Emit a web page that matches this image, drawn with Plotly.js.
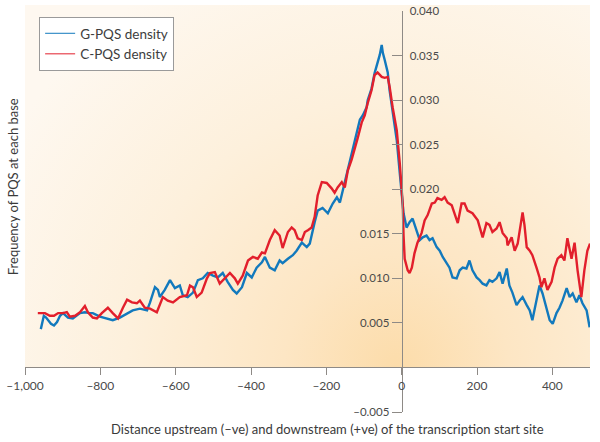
<!DOCTYPE html>
<html>
<head>
<meta charset="utf-8">
<script src="https://cdn.plot.ly/plotly-3.0.1.min.js"></script>
<style>
  body { margin: 0; background: #fff; }
  #chart { width: 600px; height: 442px; }
</style>
</head>
<body>
<div id="chart"></div>
<script>
// distance from TSS (bases) and PQS frequency
const gDist = [-958,-950,-944,-931,-923,-915,-907,-899,-886,-873,-854,-841,-828,-820,-801,-780,-767,-748,-729,-714,
  -695,-676,-668,-655,-647,-642,-629,-615,-602,-589,-581,-568,-554,-541,-528,-515,-501,-488,-475,-462,
  -448,-438,-424,-411,-398,-385,-371,-363,-350,-337,-324,-316,-302,-289,-279,-265,-252,-244,-231,-223,
  -210,-196,-183,-172,-164,-156,-146,-138,-130,-119,-111,-103,-93,-90,-80,-72,-64,-58,-53,-50,
  -45,-37,-32,-24,-13,-5,0,5,13,21,29,40,48,56,66,74,82,93,101,109,
  119,127,135,146,154,162,172,180,188,199,207,215,225,233,241,252,260,268,279,286,
  294,305,313,321,332,340,347,358,366,374,385,393,401,411,419,427,438,446,454,464,
  472,480,491,499];
const gFreq = [0.0043,0.0058,0.0056,0.0049,0.0047,0.0051,0.0058,0.0061,0.0056,0.0055,0.0061,0.0062,0.0061,0.0061,0.0057,0.0055,0.0053,0.0056,0.0061,0.0064,
  0.0066,0.0064,0.0073,0.0090,0.0087,0.0079,0.0087,0.0098,0.0089,0.0092,0.0081,0.0079,0.0084,0.0098,0.0100,0.0106,0.0103,0.0101,0.0106,0.0096,
  0.0087,0.0083,0.0090,0.0106,0.0101,0.0112,0.0118,0.0124,0.0112,0.0109,0.0120,0.0117,0.0122,0.0126,0.0131,0.0140,0.0135,0.0139,0.0163,0.0176,
  0.0179,0.0173,0.0184,0.0191,0.0185,0.0199,0.0216,0.0233,0.0247,0.0266,0.0278,0.0283,0.0292,0.0300,0.0313,0.0330,0.0342,0.0351,0.0362,0.0353,
  0.0345,0.0331,0.0311,0.0285,0.0255,0.0218,0.0193,0.0173,0.0157,0.0163,0.0167,0.0154,0.0143,0.0146,0.0148,0.0143,0.0145,0.0135,0.0131,0.0124,
  0.0118,0.0112,0.0101,0.0100,0.0109,0.0112,0.0111,0.0120,0.0109,0.0101,0.0098,0.0094,0.0092,0.0098,0.0096,0.0100,0.0107,0.0094,0.0111,0.0092,
  0.0084,0.0070,0.0075,0.0079,0.0070,0.0064,0.0053,0.0075,0.0092,0.0083,0.0064,0.0053,0.0049,0.0061,0.0067,0.0075,0.0089,0.0079,0.0083,0.0073,
  0.0081,0.0072,0.0064,0.0045];

const cDist = [-966,-947,-934,-923,-912,-899,-889,-881,-867,-854,-841,-833,-820,-809,-796,-780,-767,-753,-740,-729,
  -716,-703,-695,-682,-668,-650,-634,-621,-607,-589,-570,-562,-554,-544,-531,-517,-509,-496,-483,-469,
  -456,-443,-435,-422,-408,-395,-382,-371,-363,-350,-337,-324,-316,-302,-292,-284,-276,-265,-257,-249,
  -239,-231,-223,-212,-199,-186,-178,-170,-159,-151,-143,-133,-125,-117,-106,-98,-90,-80,-72,-64,
  -53,-45,-37,-32,-24,-13,-5,3,5,8,16,21,27,34,42,53,61,69,80,88,
  95,106,114,122,133,141,149,159,167,175,188,202,215,225,233,241,252,260,268,279,
  281,292,300,308,318,321,326,332,340,347,358,366,371,379,387,398,406,414,424,432,
  440,451,459,467,477,485,493,500];
const cFreq = [0.0061,0.0061,0.0058,0.0058,0.0061,0.0061,0.0062,0.0057,0.0058,0.0062,0.0069,0.0062,0.0056,0.0055,0.0061,0.0067,0.0061,0.0055,0.0067,0.0076,
  0.0073,0.0072,0.0075,0.0067,0.0066,0.0062,0.0079,0.0075,0.0073,0.0079,0.0081,0.0092,0.0090,0.0079,0.0084,0.0100,0.0106,0.0107,0.0094,0.0100,
  0.0106,0.0100,0.0094,0.0103,0.0120,0.0124,0.0122,0.0129,0.0128,0.0143,0.0154,0.0148,0.0134,0.0152,0.0157,0.0154,0.0145,0.0143,0.0152,0.0154,
  0.0157,0.0169,0.0193,0.0208,0.0207,0.0201,0.0196,0.0202,0.0208,0.0202,0.0221,0.0233,0.0244,0.0257,0.0275,0.0283,0.0297,0.0311,0.0328,0.0331,
  0.0326,0.0325,0.0326,0.0315,0.0292,0.0266,0.0229,0.0182,0.0148,0.0122,0.0109,0.0106,0.0112,0.0128,0.0140,0.0151,0.0165,0.0171,0.0184,0.0185,
  0.0190,0.0188,0.0191,0.0185,0.0182,0.0173,0.0162,0.0184,0.0184,0.0176,0.0173,0.0165,0.0146,0.0162,0.0160,0.0152,0.0156,0.0163,0.0151,0.0145,
  0.0137,0.0146,0.0131,0.0139,0.0165,0.0174,0.0160,0.0135,0.0131,0.0126,0.0112,0.0101,0.0090,0.0100,0.0087,0.0096,0.0112,0.0122,0.0126,0.0120,
  0.0145,0.0122,0.0140,0.0109,0.0079,0.0109,0.0131,0.0139];

const seriesNames = ["G-PQS density", "C-PQS density"];
const xTickVals = [-1000, -800, -600, -400, -200, 0, 200, 400];
const xTickText = ["\u20131,000", "\u2013800", "\u2013600", "\u2013400", "\u2013200", "0", "200", "400"];
const yLowVals = [-0.005, 0.005, 0.010, 0.015];
const yLowText = ["\u20130.005", "0.005", "0.010", "0.015"];
const yHighVals = [0.020, 0.025, 0.030, 0.035, 0.040];
const yHighText = ["0.020", "0.025", "0.030", "0.035", "0.040"];

const BLUE = "#1279bd";
const RED = "#e21f2c";
const AXIS = "#8e8a86";
const FONT = "Lato, 'Open Sans', sans-serif";

// soft orange backdrop, brightest top-left, warmest just left of the TSS
const bg = "data:image/svg+xml;utf8," + encodeURIComponent(
  '<svg xmlns="http://www.w3.org/2000/svg" width="566" height="362" preserveAspectRatio="none">' +
  '<defs><radialGradient id="g" gradientUnits="userSpaceOnUse" cx="372" cy="362" r="450">' +
  '<stop offset="0" stop-color="#fcdcaa"/><stop offset="0.25" stop-color="#fde6c4"/>' +
  '<stop offset="0.6" stop-color="#fdf0dc"/><stop offset="1" stop-color="#fef8f0"/>' +
  '</radialGradient></defs>' +
  '<rect width="566" height="362" fill="url(#g)"/></svg>');

const traces = [
  {x: gDist, y: gFreq, mode: "lines", line: {color: BLUE, width: 2.4}, showlegend: false, hoverinfo: "skip"},
  {x: cDist, y: cFreq, mode: "lines", line: {color: RED, width: 2.4}, showlegend: false, hoverinfo: "skip"},
  // thin legend keys, as in the figure
  {x: [null], y: [null], yaxis: "y2", mode: "lines", name: seriesNames[0], line: {color: BLUE, width: 1}},
  {x: [null], y: [null], yaxis: "y2", mode: "lines", name: seriesNames[1], line: {color: RED, width: 1}},
];

const layout = {
  width: 600,
  height: 442,
  margin: {l: 25, r: 10, t: 11, b: 30},
  paper_bgcolor: "#ffffff",
  plot_bgcolor: "rgba(0,0,0,0)",
  font: {family: FONT, color: "#4a4a4a", size: 12},
  showlegend: true,
  legend: {
    x: 0.025, y: 0.985, xanchor: "left", yanchor: "top",
    bgcolor: "#ffffff", bordercolor: "#9a9a9a", borderwidth: 1,
    font: {family: FONT, size: 13.5, color: "#3d3d3d"},
    tracegroupgap: 0,
  },
  xaxis: {
    range: [-1000, 500],
    anchor: "free", position: 0.1111,
    showgrid: false, zeroline: false,
    showline: true, linecolor: AXIS, linewidth: 1,
    ticks: "outside", ticklen: 7, tickcolor: AXIS,
    tickvals: xTickVals, ticktext: xTickText,
    tickfont: {size: 12, color: "#4a4a4a"},
  },
  yaxis: {
    range: [-0.005, 0.040],
    anchor: "free", position: 2 / 3,
    showgrid: false, zeroline: false,
    showline: true, linecolor: AXIS, linewidth: 1,
    ticks: "outside", ticklen: 10, tickcolor: AXIS,
    tickvals: yLowVals, ticktext: yLowText,
    tickfont: {size: 11.5, color: "#4a4a4a"},
  },
  yaxis2: {
    range: [-0.005, 0.040],
    overlaying: "y", side: "right",
    anchor: "free", position: 2 / 3,
    showgrid: false, zeroline: false, showline: false,
    ticks: "inside", ticklen: 10, tickcolor: AXIS,
    ticklabelstandoff: 7,
    tickvals: yHighVals, ticktext: yHighText,
    tickfont: {size: 11.5, color: "#4a4a4a"},
  },
  images: [{
    source: bg, xref: "paper", yref: "paper",
    x: 0, y: 1.015, sizex: 1, sizey: 0.904,
    xanchor: "left", yanchor: "top", sizing: "stretch", layer: "below",
  }],
  annotations: [
    {
      text: "Distance upstream (\u2013ve) and downstream (+ve) of the transcription start site",
      xref: "paper", yref: "paper", x: 0.536, y: -0.042,
      xanchor: "center", yanchor: "middle", showarrow: false,
      font: {family: FONT, size: 13, color: "#3a3a3a"},
    },
    {
      text: "Frequency of PQS at each base",
      xref: "paper", yref: "paper", x: -0.021, y: 0.561, textangle: -90,
      xanchor: "center", yanchor: "middle", showarrow: false,
      font: {family: FONT, size: 13, color: "#3a3a3a"},
    },
  ],
};

Plotly.newPlot("chart", traces, layout, {displayModeBar: false, staticPlot: true});
</script>
</body>
</html>
